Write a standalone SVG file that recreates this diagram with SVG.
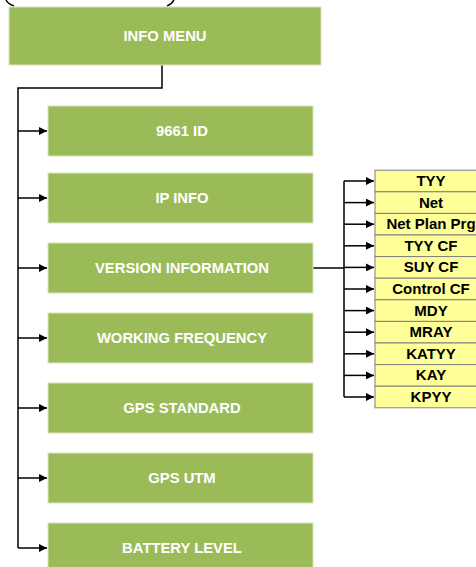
<svg xmlns="http://www.w3.org/2000/svg" width="476" height="567" viewBox="0 0 476 567">
<style>
.g{fill:#9BBB59;stroke:#D8E4BC;stroke-width:1}
.gt{fill:#FFFFFF;font-family:"Liberation Sans",Arial,sans-serif;font-weight:bold;font-size:14.8px;text-anchor:middle}
.y{fill:#FFFF99;stroke:#7F7F7F;stroke-width:1}
.yt{fill:#000;font-family:"Liberation Sans",Arial,sans-serif;font-weight:bold;font-size:15px;text-anchor:middle}
.c{fill:none;stroke:#000;stroke-width:1.5}
</style>
<defs>
<marker id="a" viewBox="0 0 10 10" refX="10" refY="5" markerWidth="8" markerHeight="8" markerUnits="userSpaceOnUse" orient="auto">
<path d="M0,0 L10,5 L0,10 z" fill="#000"/>
</marker>
</defs>
<rect width="476" height="567" fill="#fff"/>
<path d="M6,0 Q8,4 14,6 M167,6 Q172,4 174,0" fill="none" stroke="#000" stroke-width="1.5"/>
<g id="connectors">
<path class="c" d="M162,65 V88 H18 V548"/>
<path class="c" d="M18,131 H47" marker-end="url(#a)"/>
<path class="c" d="M18,198 H47" marker-end="url(#a)"/>
<path class="c" d="M18,268 H47" marker-end="url(#a)"/>
<path class="c" d="M18,338 H47" marker-end="url(#a)"/>
<path class="c" d="M18,408 H47" marker-end="url(#a)"/>
<path class="c" d="M18,478 H47" marker-end="url(#a)"/>
<path class="c" d="M18,548 H47" marker-end="url(#a)"/>
<path class="c" d="M313,268 H344 M344,181 V397"/>
<path class="c" d="M344,181 H374" marker-end="url(#a)"/>
<path class="c" d="M344,202.6 H374" marker-end="url(#a)"/>
<path class="c" d="M344,224.2 H374" marker-end="url(#a)"/>
<path class="c" d="M344,245.8 H374" marker-end="url(#a)"/>
<path class="c" d="M344,267.4 H374" marker-end="url(#a)"/>
<path class="c" d="M344,289 H374" marker-end="url(#a)"/>
<path class="c" d="M344,310.6 H374" marker-end="url(#a)"/>
<path class="c" d="M344,332.2 H374" marker-end="url(#a)"/>
<path class="c" d="M344,353.8 H374" marker-end="url(#a)"/>
<path class="c" d="M344,375.4 H374" marker-end="url(#a)"/>
<path class="c" d="M344,397 H374" marker-end="url(#a)"/>
</g>
<g id="info-menu"><rect class="g" x="9" y="7" width="312" height="58"/><text class="gt" x="165" y="41">INFO MENU</text></g>
<g id="id9661"><rect class="g" x="48" y="106" width="265" height="50"/><text class="gt" x="182" y="136">9661 ID</text></g>
<g id="ip-info"><rect class="g" x="48" y="173" width="265" height="50"/><text class="gt" x="182" y="203">IP INFO</text></g>
<g id="version"><rect class="g" x="48" y="243" width="265" height="50"/><text class="gt" x="182" y="273">VERSION INFORMATION</text></g>
<g id="working-frequency"><rect class="g" x="48" y="313" width="265" height="50"/><text class="gt" x="182" y="343">WORKING FREQUENCY</text></g>
<g id="gps-standard"><rect class="g" x="48" y="383" width="265" height="50"/><text class="gt" x="182" y="413">GPS STANDARD</text></g>
<g id="gps-utm"><rect class="g" x="48" y="453" width="265" height="50"/><text class="gt" x="182" y="483">GPS UTM</text></g>
<g id="battery-level"><rect class="g" x="48" y="523" width="265" height="50"/><text class="gt" x="182" y="553">BATTERY LEVEL</text></g>
<g id="v-tyy"><rect class="y" x="375" y="170.2" width="110" height="21.6"/><text class="yt" x="431" y="186">TYY</text></g>
<g id="v-net"><rect class="y" x="375" y="191.8" width="110" height="21.6"/><text class="yt" x="431" y="207.6">Net</text></g>
<g id="v-netplan"><rect class="y" x="375" y="213.4" width="110" height="21.6"/><text class="yt" x="431" y="229.2">Net Plan Prg</text></g>
<g id="v-tyycf"><rect class="y" x="375" y="235" width="110" height="21.6"/><text class="yt" x="431" y="250.8">TYY CF</text></g>
<g id="v-suycf"><rect class="y" x="375" y="256.6" width="110" height="21.6"/><text class="yt" x="431" y="272.4">SUY CF</text></g>
<g id="v-controlcf"><rect class="y" x="375" y="278.2" width="110" height="21.6"/><text class="yt" x="431" y="294">Control CF</text></g>
<g id="v-mdy"><rect class="y" x="375" y="299.8" width="110" height="21.6"/><text class="yt" x="431" y="315.6">MDY</text></g>
<g id="v-mray"><rect class="y" x="375" y="321.4" width="110" height="21.6"/><text class="yt" x="431" y="337.2">MRAY</text></g>
<g id="v-katyy"><rect class="y" x="375" y="343" width="110" height="21.6"/><text class="yt" x="431" y="358.8">KATYY</text></g>
<g id="v-kay"><rect class="y" x="375" y="364.6" width="110" height="21.6"/><text class="yt" x="431" y="380.4">KAY</text></g>
<g id="v-kpyy"><rect class="y" x="375" y="386.2" width="110" height="21.6"/><text class="yt" x="431" y="402">KPYY</text></g>
</svg>
